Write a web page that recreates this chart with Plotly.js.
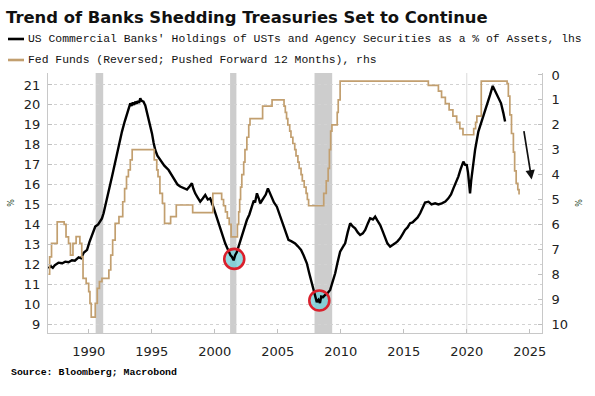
<!DOCTYPE html>
<html>
<head>
<meta charset="utf-8">
<script src="https://cdn.plot.ly/plotly-3.0.1.min.js"></script>
<style>html,body{margin:0;padding:0;background:#fff;}#chart{width:595px;height:396px;}</style>
</head>
<body>
<div id="chart"></div>
<script>
// ---- Data ----
const bankYears = [1986.8,1987.0,1987.15,1987.3,1987.6,1987.9,1988.14,1988.4,1988.67,1988.9,1989.2,1989.4,1989.6,1989.87,1990.05,1990.26,1990.52,1990.75,1990.92,1991.05,1991.18,1991.45,1991.65,1991.85,1992.05,1992.24,1992.45,1992.64,1992.85,1993.04,1993.2,1993.3,1993.4,1993.5,1993.6,1993.7,1993.8,1993.9,1994.0,1994.09,1994.2,1994.35,1994.5,1994.62,1994.8,1995.02,1995.15,1995.28,1995.45,1995.68,1996.0,1996.34,1996.6,1996.87,1997.05,1997.26,1997.5,1997.8,1998.0,1998.19,1998.3,1998.45,1998.65,1998.85,1999.05,1999.25,1999.45,1999.64,1999.85,2000.04,2000.25,2000.44,2000.65,2000.83,2001.0,2001.1,2001.25,2001.36,2001.5,2001.63,2001.75,2001.89,2002.0,2002.16,2002.35,2002.55,2002.75,2002.95,2003.1,2003.2,2003.35,2003.5,2003.61,2003.75,2003.87,2004.05,2004.22,2004.35,2004.54,2004.7,2004.93,2005.2,2005.46,2005.65,2005.85,2006.1,2006.38,2006.6,2006.85,2007.05,2007.31,2007.5,2007.71,2007.85,2007.97,2008.1,2008.23,2008.35,2008.45,2008.6,2008.76,2008.95,2009.16,2009.35,2009.56,2009.75,2009.95,2010.15,2010.35,2010.55,2010.75,2010.95,2011.14,2011.35,2011.54,2011.75,2011.94,2012.15,2012.33,2012.55,2012.73,2012.9,2013.13,2013.3,2013.52,2013.7,2013.92,2014.1,2014.31,2014.5,2014.71,2014.9,2015.1,2015.3,2015.5,2015.7,2015.9,2016.1,2016.3,2016.5,2016.69,2016.96,2017.2,2017.49,2017.75,2018.02,2018.3,2018.54,2018.75,2018.94,2019.15,2019.33,2019.5,2019.6,2019.73,2019.85,2020.0,2020.1,2020.18,2020.26,2020.35,2020.45,2020.66,2020.92,2021.1,2021.32,2021.59,2021.85,2022.06,2022.2,2022.38,2022.55,2022.72,2022.9,2023.04];
const bankPct = [11.8,11.9,11.82,11.95,12.08,12.05,12.13,12.1,12.2,12.18,12.35,12.3,12.58,12.72,13.1,13.47,13.89,14.0,14.14,14.3,14.56,15.23,15.85,16.4,17.0,17.57,18.15,18.66,19.15,19.58,19.9,20.08,19.95,20.12,20.0,20.16,20.05,20.2,20.1,20.33,20.2,20.16,19.95,19.66,19.15,18.57,18.1,17.74,17.45,17.24,16.95,16.73,16.45,16.2,16.0,15.9,15.85,15.75,15.9,16.07,15.8,15.56,15.35,15.14,15.3,15.48,15.25,15.31,14.95,14.56,14.2,13.8,13.4,13.05,12.8,12.63,12.45,12.38,12.2,12.47,12.6,12.88,13.1,13.47,13.85,14.22,14.5,14.89,15.2,15.1,15.56,15.3,15.06,15.2,15.31,15.5,15.81,15.6,15.31,15.1,14.89,14.4,13.89,13.5,13.22,13.15,13.05,12.9,12.72,12.45,12.05,11.55,11.05,10.6,10.29,10.1,10.21,10.05,10.38,10.35,10.46,10.55,10.71,11.1,11.55,12.1,12.63,12.85,13.05,13.6,14.06,13.9,13.8,13.6,13.47,13.55,13.72,14.05,14.31,14.25,14.39,14.2,13.97,13.7,13.3,13.05,12.88,12.95,13.05,13.15,13.3,13.5,13.72,13.85,14.06,14.1,14.22,14.35,14.56,14.8,15.1,15.14,15.0,15.06,15.0,15.06,15.15,15.31,15.5,15.81,16.1,16.4,16.75,16.9,17.15,17.0,16.98,16.6,16.0,15.56,16.2,16.73,17.74,18.66,19.0,19.41,19.91,20.5,20.95,20.75,20.5,20.3,20.08,19.6,19.16];

const fedYears = [1986.8,1986.9,1987.05,1987.5,1988.05,1988.2,1988.4,1988.55,1988.75,1989.0,1989.3,1989.45,1989.55,1989.8,1990.0,1990.1,1990.2,1990.52,1990.68,1990.85,1991.05,1991.6,1991.75,1991.9,1992.1,1992.4,1992.7,1992.85,1993.0,1993.15,1993.3,1993.45,1995.2,1995.4,1995.5,1995.65,1995.85,1996.02,1996.5,1996.95,1998.25,1999.85,2000.55,2000.7,2000.85,2001.0,2001.15,2001.3,2001.8,2001.9,2001.98,2002.05,2002.15,2002.3,2002.4,2002.55,2002.7,2002.8,2003.8,2004.55,2005.5,2005.6,2005.7,2005.8,2005.95,2006.05,2006.2,2006.35,2006.45,2006.6,2006.7,2006.85,2006.95,2007.1,2007.25,2007.35,2007.45,2008.65,2008.85,2009.0,2009.1,2009.2,2009.3,2009.72,2009.8,2009.95,2016.95,2017.75,2018.0,2018.3,2018.6,2018.9,2019.2,2019.45,2019.7,2020.55,2020.7,2020.8,2021.15,2023.2,2023.3,2023.42,2023.55,2023.7,2023.8,2023.92,2024.05,2024.15];
const fedRev = [8.0,7.3,6.76,5.9,6.0,6.5,6.76,7.23,6.76,6.49,6.76,7.3,8.17,8.37,8.7,9.17,9.72,9.17,8.57,8.3,8.17,7.83,7.23,6.63,5.96,5.69,5.09,4.56,4.08,3.81,3.41,3.0,3.41,3.81,4.08,4.75,5.15,5.96,5.69,5.22,5.53,4.75,5.0,5.25,5.5,5.75,6.0,6.5,6.0,5.5,5.0,4.5,4.0,3.5,3.0,2.5,2.0,1.75,1.25,1.0,1.25,1.5,1.75,2.0,2.25,2.5,2.75,3.0,3.25,3.5,3.75,4.0,4.25,4.5,4.75,5.0,5.25,4.75,4.25,3.75,3.0,2.25,2.0,1.5,1.0,0.25,0.42,0.65,0.9,1.15,1.4,1.65,1.9,2.15,2.4,2.15,1.9,1.65,0.25,0.35,0.85,1.6,2.35,3.1,3.85,4.35,4.6,4.8];

const recessionStart = [1990.55, 2001.22, 2007.92];
const recessionEnd   = [1991.15, 2001.72, 2009.32];

const xTicks = [1990,1995,2000,2005,2010,2015,2020,2025];
const yLeftTicks = [9,10,11,12,13,14,15,16,17,18,19,20,21];
const yRightTicks = [0,1,2,3,4,5,6,7,8,9,10];

const circledYears = [2001.55, 2008.3];
const circledValues = [12.27, 10.18];

const titleText = 'Trend of Banks Shedding Treasuries Set to Continue';
const legendBank = "US Commercial Banks' Holdings of USTs and Agency Securities as a % of Assets, lhs";
const legendFed = 'Fed Funds (Reversed; Pushed Forward 12 Months), rhs';
const sourceText = 'Source: Bloomberg; Macrobond';

// ---- Styles ----
const BLACK = '#000000';
const BROWN = '#c29f6f';
const tickFont = {family: 'DejaVu Sans, sans-serif', size: 13, color: '#222'};
const monoFont = 'Liberation Mono, DejaVu Sans Mono, monospace';

const traces = [
  {x: fedYears, y: fedRev, yaxis: 'y2', type: 'scatter', mode: 'lines',
   line: {color: BROWN, width: 1.7, shape: 'hv'}, name: legendFed, showlegend: false, hoverinfo: 'skip'},
  {x: bankYears, y: bankPct, yaxis: 'y', type: 'scatter', mode: 'lines',
   line: {color: BLACK, width: 2.4}, name: legendBank, showlegend: false, hoverinfo: 'skip'}
];

const shapes = [];
recessionStart.forEach((s, i) => shapes.push({
  type: 'rect', xref: 'x', yref: 'paper', x0: s, x1: recessionEnd[i], y0: 0, y1: 1,
  fillcolor: '#cdcdcd', line: {width: 0}, layer: 'between'
}));
shapes.push({type: 'line', xref: 'x', yref: 'paper', x0: 2020, x1: 2020, y0: 0, y1: 1,
  line: {color: '#dadada', width: 1}, layer: 'between'});
circledYears.forEach((cx, i) => {
  shapes.push({type: 'circle', xref: 'x', yref: 'y', xsizemode: 'pixel', ysizemode: 'pixel',
    xanchor: cx, yanchor: circledValues[i], x0: -9, x1: 9, y0: -9, y1: 9,
    fillcolor: 'rgba(110,205,215,0.75)', line: {width: 0}, layer: 'between'});
  shapes.push({type: 'circle', xref: 'x', yref: 'y', xsizemode: 'pixel', ysizemode: 'pixel',
    xanchor: cx, yanchor: circledValues[i], x0: -10, x1: 10, y0: -10, y1: 10,
    line: {color: '#d9202c', width: 2.6}, layer: 'above'});
});
// legend sample lines (paper coords)
const PX = px => (px - 48) / 494;
const PY = py => (333 - py) / 260;
shapes.push({type: 'line', xref: 'paper', yref: 'paper', x0: PX(8), x1: PX(24), y0: PY(39), y1: PY(39),
  line: {color: BLACK, width: 2.6}});
shapes.push({type: 'line', xref: 'paper', yref: 'paper', x0: PX(8), x1: PX(24), y0: PY(60), y1: PY(60),
  line: {color: BROWN, width: 2.6}});

const annotations = [
  {xref: 'paper', yref: 'paper', x: PX(26), y: PY(39), xanchor: 'left', yanchor: 'middle', showarrow: false,
   text: legendBank, font: {family: monoFont, size: 11.4, color: '#111'}},
  {xref: 'paper', yref: 'paper', x: PX(26), y: PY(60), xanchor: 'left', yanchor: 'middle', showarrow: false,
   text: legendFed, font: {family: monoFont, size: 11.4, color: '#111'}},
  {xref: 'paper', yref: 'paper', x: PX(9), y: PY(372), xanchor: 'left', yanchor: 'middle', showarrow: false,
   text: '<b>' + sourceText + '</b>', font: {family: monoFont, size: 9.9, color: '#000'}},
  {xref: 'x', yref: 'y', x: 2025.15, y: 16.25, ax: -8, ay: -50, showarrow: true, text: '',
   arrowhead: 2, arrowsize: 1.1, arrowwidth: 1.7, arrowcolor: '#111'}
];

const layout = {
  width: 595, height: 396,
  margin: {l: 48, r: 53, t: 73, b: 63, pad: 0},
  paper_bgcolor: '#ffffff', plot_bgcolor: '#ffffff',
  showlegend: false,
  title: {text: '<b>' + titleText + '</b>', x: 6 / 595, xanchor: 'left', xref: 'container',
          y: 1 - 17 / 396, yanchor: 'middle', yref: 'container',
          font: {family: 'DejaVu Sans, sans-serif', size: 16.4, color: '#111'}},
  xaxis: {range: [1986.77, 2025.97], tickvals: xTicks, ticktext: xTicks.map(String),
          ticks: 'inside', ticklen: 4, tickcolor: '#c0c0c0', showline: true, linecolor: '#c8c8c8', linewidth: 1,
          showgrid: false, zeroline: false, tickfont: tickFont, ticklabelstandoff: 6},
  yaxis: {range: [8.55, 21.6], tickvals: yLeftTicks, ticks: 'inside', ticklen: 4, tickcolor: '#c0c0c0',
          showline: true, linecolor: '#c8c8c8', linewidth: 1, showgrid: true, gridcolor: '#d2d2d2',
          griddash: 'dot', gridwidth: 1, zeroline: false, tickfont: tickFont, ticklabelstandoff: 4,
          title: {text: '%', font: {family: 'DejaVu Sans, sans-serif', size: 8, color: '#2a4a2a'}, standoff: 8}},
  yaxis2: {range: [10.36, -0.08], tickvals: yRightTicks, overlaying: 'y', side: 'right',
           ticks: 'inside', ticklen: 4, tickcolor: '#c0c0c0', showline: true, linecolor: '#c8c8c8', linewidth: 1,
           showgrid: false, zeroline: false, tickfont: tickFont, ticklabelstandoff: 6,
           title: {text: '%', font: {family: 'DejaVu Sans, sans-serif', size: 8, color: '#2a4a2a'}, standoff: 9}},
  shapes: shapes,
  annotations: annotations
};

Plotly.newPlot('chart', traces, layout, {staticPlot: true, displayModeBar: false});
</script>
</body>
</html>
